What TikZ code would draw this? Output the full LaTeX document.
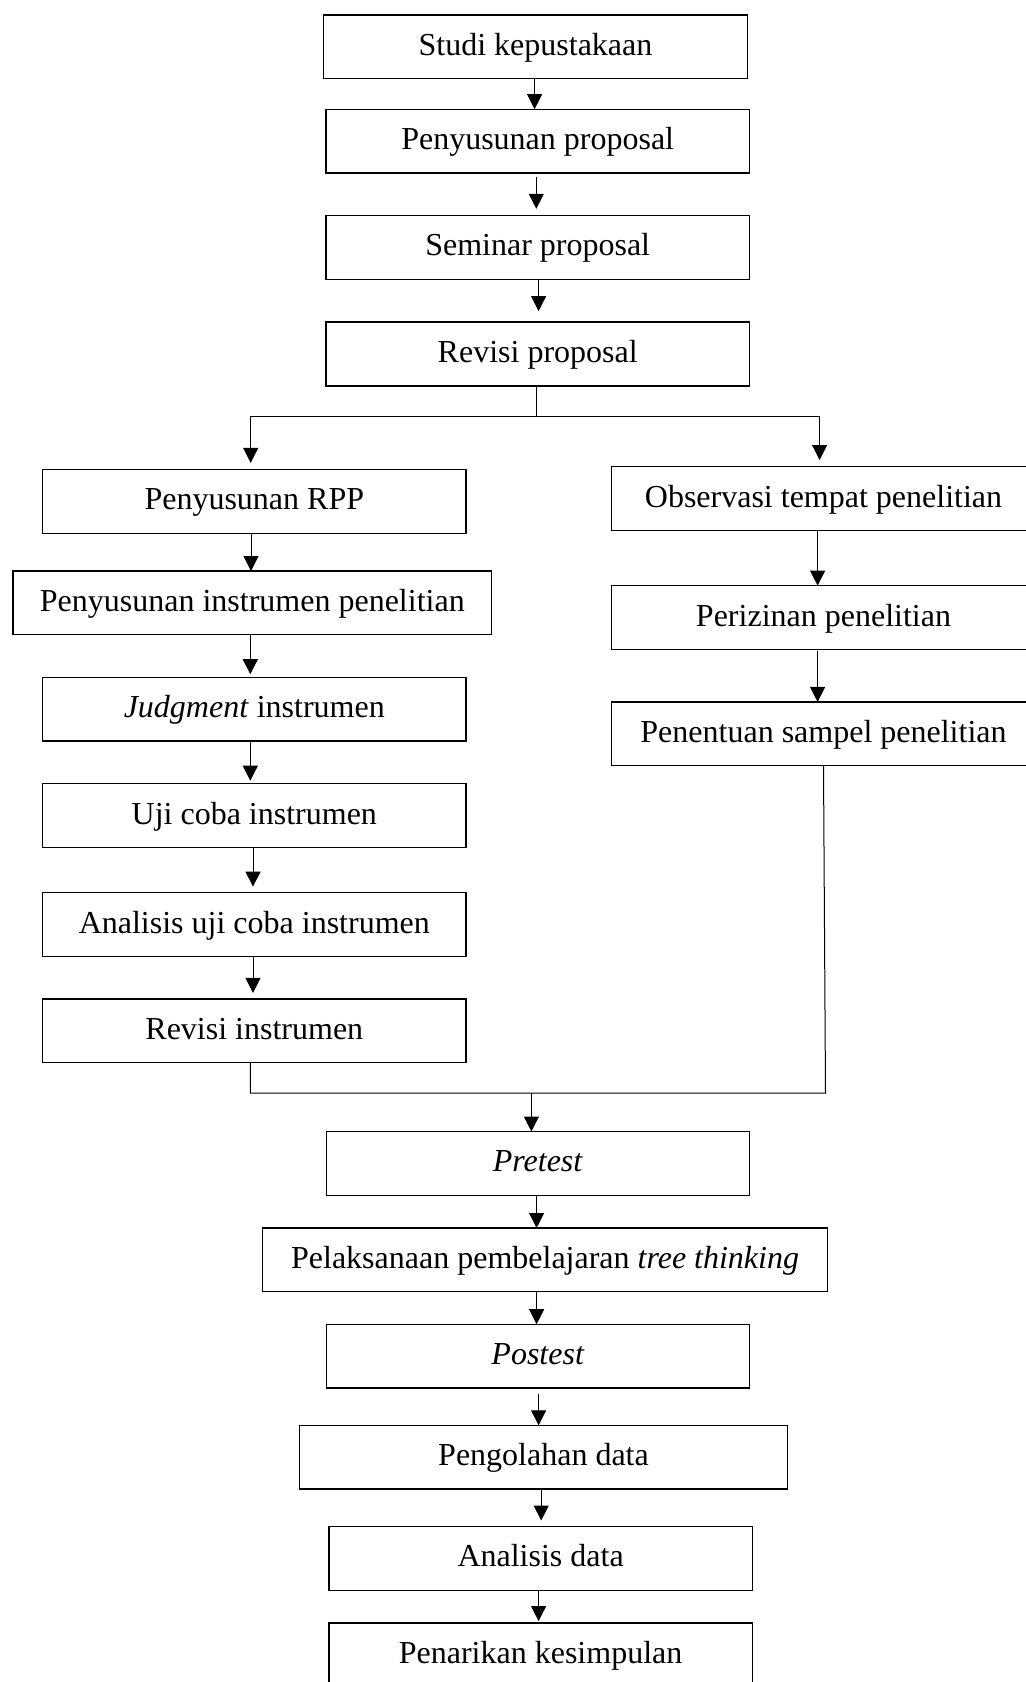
\documentclass[tikz,border=0pt]{standalone}
\usepackage{fontspec}
\setmainfont{Liberation Serif}
\usetikzlibrary{arrows.meta}
\begin{document}
\begin{tikzpicture}[x=0.5pt,y=-0.5pt,
  box/.style={draw=black, line width=0.65pt, rectangle, inner sep=0pt, outer sep=0pt,
    minimum width=211.75pt, minimum height=31.9pt,
    font=\fontsize{16}{19}\selectfont, text height=1.0em, text depth=0.15em},
  conn/.style={line width=0.5pt},
  arr/.style={line width=0.5pt, -{Triangle[length=7.5pt,width=7.5pt]}}]
\useasboundingbox (0,0) rectangle (1025,1682);
% main top column
\node[box] (studi) at (535.5,46.8) {Studi kepustakaan};
\node[box] (pprop) at (537.7,141.1) {Penyusunan proposal};
\node[box] (sem) at (537.7,247.3) {Seminar proposal};
\node[box] (rev) at (537.7,354) {Revisi proposal};
% left column
\node[box] (rpp) at (254.3,501.3) {Penyusunan RPP};
\node[box, minimum width=239.25pt] (inst) at (252.3,602.9) {Penyusunan instrumen penelitian};
\node[box] (judg) at (254.3,709.1) {\textit{Judgment} instrumen};
\node[box] (uji) at (254.3,815.6) {Uji coba instrumen};
\node[box] (anal) at (254.3,924.5) {Analisis uji coba instrumen};
\node[box] (revi) at (254.3,1030.8) {Revisi instrumen};
% right column
\node[box] (obs) at (823.5,498.7) {Observasi tempat penelitian};
\node[box] (per) at (823.5,617.5) {Perizinan penelitian};
\node[box] (pen) at (823.5,733.8) {Penentuan sampel penelitian};
% bottom column
\node[box] (pre) at (537.9,1163.4) {\textit{Pretest}};
\node[box, minimum width=282.4pt] (pel) at (545.1,1259.9) {Pelaksanaan pembelajaran \textit{tree thinking}};
\node[box] (post) at (538,1356.1) {\textit{Postest}};
\node[box, minimum width=244.15pt] (peng) at (543.5,1457.2) {Pengolahan data};
\node[box] (anad) at (540.6,1558.4) {Analisis data};
\node[box] (pena) at (540.6,1655) {Penarikan kesimpulan};
% x positions of connectors
\coordinate (xa) at (534.6,0);
\coordinate (xb) at (536.3,0);
\coordinate (xc) at (538.6,0);
\coordinate (xl2) at (250.3,0);
\coordinate (xl3) at (253,0);
\coordinate (xlr) at (251,0);
\coordinate (xr2) at (817.6,0);
\coordinate (xpb) at (823.5,0);
\coordinate (xp) at (536.6,0);
\coordinate (xq) at (538.6,0);
\coordinate (xs) at (541.2,0);
% branch and join points
\coordinate (bj) at (536,416);
\coordinate (bl) at (250.7,416);
\coordinate (br) at (819.6,416);
\coordinate (jl) at (250.3,1093);
\coordinate (jr) at (825.5,1093);
\coordinate (jm) at (531.4,1093);
% connectors
\draw[arr] (studi.south -| xa) -- (pprop.north -| xa);
\draw[arr, shorten <=2pt, shorten >=3.3pt] (pprop.south -| xb) -- (sem.north -| xb);
\draw[arr, shorten >=5.5pt] (sem.south -| xc) -- (rev.north -| xc);
\draw[conn] (rev.south -| bj) -- (bj);
\draw[conn] (bl) -- (br);
\draw[arr, shorten >=3.25pt] (bl) -- (rpp.north -| bl);
\draw[arr, shorten >=3.4pt] (br) -- (obs.north -| br);
\draw[arr] (rpp.south -| xlr) -- (inst.north -| xlr);
\draw[arr, shorten >=1.5pt] (inst.south -| xl2) -- (judg.north -| xl2);
\draw[arr, shorten >=1.5pt] (judg.south -| xl2) -- (uji.north -| xl2);
\draw[arr, shorten >=3pt] (uji.south -| xl3) -- (anal.north -| xl3);
\draw[arr, shorten >=3pt] (anal.south -| xl3) -- (revi.north -| xl3);
\draw[arr] (obs.south -| xr2) -- (per.north -| xr2);
\draw[arr, shorten <=1pt] (per.south -| xr2) -- (pen.north -| xr2);
\draw[conn] (revi.south -| jl) -- (jl) -- (jr) -- (pen.south -| xpb);
\draw[arr] (jm) -- (pre.north -| jm);
\draw[arr] (pre.south -| xp) -- (pel.north -| xp);
\draw[arr] (pel.south -| xp) -- (post.north -| xp);
\draw[arr, shorten <=3pt] (post.south -| xq) -- (peng.north -| xq);
\draw[arr, shorten >=3pt] (peng.south -| xs) -- (anad.north -| xs);
\draw[arr, shorten >=1pt] (anad.south -| xq) -- (pena.north -| xq);
\end{tikzpicture}
\end{document}
